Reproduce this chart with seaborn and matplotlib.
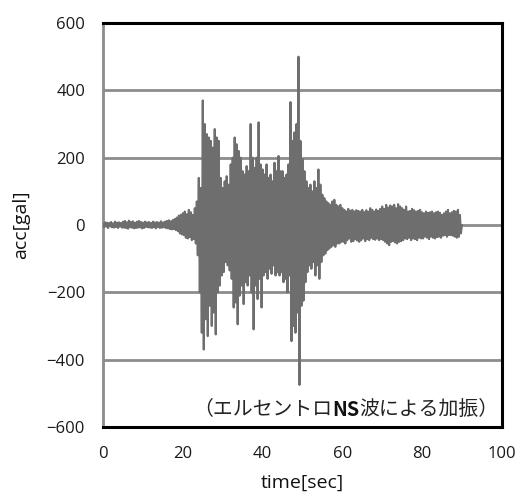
#!/usr/bin/env python3
"""El Centro NS ground acceleration record (excitation input)."""

import numpy as np
import pandas as pd
import matplotlib
matplotlib.use("Agg")
import matplotlib.pyplot as plt
import seaborn as sns

DT = 0.25  # sampling step of the values [sec]

# acc[gal], one value every DT seconds, 0 .. 90 s
ACC = [
    4, -6, 8, -5, 7, -9, 6, -4, 9, -7, 5, -8, 10, -6, 7, -9, 8, -5, 6, -8,                      # 0 - 4.75
    10, -8, 12, -9, 8, -11, 13, -7, 9, -8, 11, -10, 7, -9, 10, -8, 12, -7, 9, -10,              # 5 - 9.75
    7, -9, 10, -6, 8, -7, 9, -8, 6, -9, 10, -7, 8, -10, 9, -6, 7, -9, 11, -8,                   # 10 - 14.75
    8, -7, 10, -9, 12, -10, 14, -12, 11, -13, 15, -12, 18, -15, 22, -18, 28, -25, 30, -28,      # 15 - 19.75
    35, -30, 40, -38, 32, -40, 45, -36, 38, -45, 30, -42, 50, -55, 70, -90, 140, -200, 110, -320,  # 20 - 24.75
    370, -370, 300, -280, 270, -330, 260, -240, 250, -300, 230, -260, 285, -325, 260, -200, 250, -180, 140, -150,  # 25
    110, -140, 130, -110, 145, -120, 120, -135, 180, -160, 200, -245, 260, -230, 240, -295, 220, -210, 200, -180,  # 30
    160, -235, 150, -170, 175, -180, 160, -150, 300, -200, 200, -310, 170, -180, 200, -220, 305, -160, 180, -245,  # 35
    165, -150, 150, -140, 180, -160, 140, -130, 150, -145, 130, -120, 185, -150, 160, -140, 205, -150, 160, -140,  # 40
    160, -170, 140, -160, 150, -200, 180, -150, 365, -345, 250, -300, 275, -320, 300, -260, 500, -475, 250, -240,  # 45
    195, -225, 160, -170, 130, -140, 110, -120, 120, -130, 100, -110, 130, -150, 110, -120, 165, -160, 120, -110,  # 50
    90, -90, 80, -85, 70, -75, 65, -70, 60, -65, 70, -60, 75, -65, 60, -55, 55, -55, 60, -50,   # 55 - 59.75
    50, -50, 45, -55, 40, -45, 48, -40, 42, -50, 45, -48, 40, -42, 44, -46, 42, -50, 40, -45,   # 60 - 64.75
    45, -40, 38, -48, 44, -42, 40, -45, 50, -38, 45, -42, 40, -44, 46, -40, 42, -45, 48, -42,   # 65 - 69.75
    55, -45, 48, -50, 60, -55, 52, -60, 58, -50, 55, -48, 60, -52, 50, -55, 62, -50, 55, -48,   # 70 - 74.75
    50, -45, 45, -40, 55, -42, 40, -38, 42, -45, 48, -40, 44, -42, 40, -45, 42, -38, 45, -40,   # 75 - 79.75
    38, -40, 35, -35, 40, -38, 36, -42, 38, -35, 40, -38, 35, -40, 38, -36, 40, -35, 36, -38,   # 80 - 84.75
    30, -32, 35, -30, 40, -35, 45, -30, 35, -30, 38, -32, 42, -35, 40, -38, 45, -35, 30, -25,   # 85 - 89.75
    0,                                                                                          # 90
]

Y_TICKS = [-600, -400, -200, 0, 200, 400, 600]
X_TICKS = [0, 20, 40, 60, 80, 100]
NOTE_LEFT = "（エルセントロ"
NOTE_BOLD = "NS"
NOTE_RIGHT = "波による加振）"

sns.set_style("white")
plt.rcParams["font.family"] = ["Open Sans", "Noto Sans CJK JP", "DejaVu Sans"]

df = pd.DataFrame({"time": np.arange(len(ACC)) * DT, "acc": ACC})

fig = plt.figure(figsize=(5.26, 5.00), dpi=100)
ax = fig.add_axes([0.196, 0.146, 0.758, 0.808])

sns.lineplot(data=df, x="time", y="acc", ax=ax, color="#6e6e6e", lw=1.5,
             estimator=None, sort=False, zorder=3)

ax.set_xlim(0, 100)
ax.set_ylim(-600, 600)
ax.set_xticks(X_TICKS)
ax.set_yticks(Y_TICKS)
ax.yaxis.grid(True, color="#8c8c8c", lw=2)
ax.xaxis.grid(False)

for side in ("top", "right", "bottom"):
    ax.spines[side].set_color("black")
    ax.spines[side].set_linewidth(2.2)
ax.spines["left"].set_color("#8c8c8c")
ax.spines["left"].set_linewidth(2)

ax.tick_params(axis="y", direction="out", length=7, width=2, color="#8c8c8c",
               pad=6, labelsize=12, labelcolor="#1a1a1a")
ax.tick_params(axis="x", length=0, pad=14, labelsize=12, labelcolor="#1a1a1a")
ax.set_xlabel("time[sec]", fontsize=14, labelpad=8, color="#111111")
ax.set_ylabel("acc[gal]", fontsize=14, labelpad=12, color="#111111")

note_font = ["Noto Sans CJK JP", "DejaVu Sans"]
t1 = ax.text(22.6, -578, NOTE_LEFT, fontsize=14.3, family=note_font,
             va="bottom", ha="left", color="#222222")
t2 = ax.annotate(NOTE_BOLD, xy=(1, 0), xycoords=t1, fontsize=14.3,
                 family=note_font, weight="bold", va="bottom", ha="left",
                 color="#111111")
ax.annotate(NOTE_RIGHT, xy=(1, 0), xycoords=t2, fontsize=14.3,
            family=note_font, va="bottom", ha="left", color="#222222")

fig.savefig("out.png", dpi=100)
plt.close(fig)
